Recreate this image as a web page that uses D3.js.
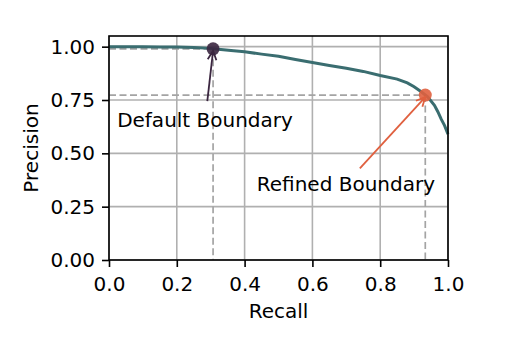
<!DOCTYPE html>
<html>
<head>
<meta charset="utf-8">
<script src="https://cdn.jsdelivr.net/npm/d3@7"></script>
<style>
  body { margin: 0; background: #fff; }
  svg text { font-family: 'DejaVu Sans', sans-serif; }
</style>
</head>
<body>
<svg id="chart" width="519" height="345"></svg>
<script>
// precision-recall curve
const recall = [0, 0.05, 0.1, 0.15, 0.2, 0.25, 0.3, 0.33, 0.36, 0.4, 0.45, 0.5, 0.55, 0.6, 0.65, 0.7, 0.75, 0.8, 0.85, 0.88, 0.9, 0.92, 0.94, 0.96, 0.97, 0.98, 0.99, 1.0]
const precision = [1.0, 1.0, 1.0, 0.999, 0.998, 0.996, 0.992, 0.987, 0.982, 0.976, 0.965, 0.955, 0.94, 0.926, 0.912, 0.899, 0.884, 0.865, 0.848, 0.83, 0.812, 0.79, 0.765, 0.725, 0.695, 0.66, 0.63, 0.59]

const boundaries = [
  { name: 'Default Boundary', recall: 0.307, precision: 0.99, color: '#3b2640', textAt: [0.024, 0.625], tail: [0.29, 0.745] },
  { name: 'Refined Boundary', recall: 0.933, precision: 0.773, color: '#e0603f', textAt: [0.436, 0.323], tail: [0.74, 0.43] }
]

const xTicks = [0, 0.2, 0.4, 0.6, 0.8, 1.0]
const yTicks = [0, 0.25, 0.5, 0.75, 1.0]

const margin = { left: 109, right: 71, top: 36, bottom: 85 }
const width = 519 - margin.left - margin.right
const height = 345 - margin.top - margin.bottom
const fs = 20

const svg = d3.select('#chart')
const g = svg.append('g').attr('transform', `translate(${margin.left},${margin.top})`)

const x = d3.scaleLinear().domain([0, 1]).range([0, width])
const y = d3.scaleLinear().domain([0, 1.05]).range([height, 0])

// grid
g.append('g')
  .selectAll('line')
  .data(xTicks)
  .join('line')
  .attr('x1', d => x(d)).attr('x2', d => x(d))
  .attr('y1', 0).attr('y2', height)
  .attr('stroke', '#b0b0b0').attr('stroke-width', 1.6)
g.append('g')
  .selectAll('line')
  .data(yTicks)
  .join('line')
  .attr('x1', 0).attr('x2', width)
  .attr('y1', d => y(d)).attr('y2', d => y(d))
  .attr('stroke', '#b0b0b0').attr('stroke-width', 1.6)

// dashed guide lines
boundaries.forEach(b => {
  g.append('line')
    .attr('x1', 0).attr('x2', x(b.recall))
    .attr('y1', y(b.precision)).attr('y2', y(b.precision))
    .attr('stroke', '#a4a4a4').attr('stroke-width', 1.7)
    .attr('stroke-dasharray', '7,3.5')
  g.append('line')
    .attr('x1', x(b.recall)).attr('x2', x(b.recall))
    .attr('y1', y(b.precision)).attr('y2', height)
    .attr('stroke', '#a4a4a4').attr('stroke-width', 1.7)
    .attr('stroke-dasharray', '7,3.5')
})

// curve
const pts = recall.map((r, i) => [r, precision[i]])
g.append('path')
  .datum(pts)
  .attr('fill', 'none')
  .attr('stroke', '#3a6d70')
  .attr('stroke-width', 3)
  .attr('d', d3.line().x(d => x(d[0])).y(d => y(d[1])))

// markers
g.selectAll('circle.pt')
  .data(boundaries)
  .join('circle')
  .attr('cx', d => x(d.recall))
  .attr('cy', d => y(d.precision))
  .attr('r', 6.5)
  .attr('fill', d => d.color)
  .attr('opacity', 0.9)

// annotations
boundaries.forEach(b => {
  const x0 = x(b.tail[0]), y0 = y(b.tail[1])
  const x1 = x(b.recall), y1 = y(b.precision) + 2
  const ang = Math.atan2(y1 - y0, x1 - x0)
  const len = 10
  g.append('line')
    .attr('x1', x0).attr('y1', y0).attr('x2', x1).attr('y2', y1)
    .attr('stroke', b.color).attr('stroke-width', 1.8)
  g.append('path')
    .attr('d', `M${x1 - len * Math.cos(ang - 0.45)},${y1 - len * Math.sin(ang - 0.45)} L${x1},${y1} L${x1 - len * Math.cos(ang + 0.45)},${y1 - len * Math.sin(ang + 0.45)}`)
    .attr('fill', 'none').attr('stroke', b.color).attr('stroke-width', 1.8)
  g.append('text')
    .attr('x', x(b.textAt[0])).attr('y', y(b.textAt[1]))
    .attr('font-size', fs)
    .attr('fill', '#000')
    .text(b.name)
})

// axes
const xAxis = g.append('g')
  .attr('transform', `translate(0,${height})`)
  .call(d3.axisBottom(x).tickValues(xTicks).tickFormat(d3.format('.1f')).tickSize(7).tickPadding(10))
const yAxis = g.append('g')
  .call(d3.axisLeft(y).tickValues(yTicks).tickFormat(d3.format('.2f')).tickSize(7).tickPadding(7))
;[xAxis, yAxis].forEach(a => {
  a.select('.domain').remove()
  a.selectAll('line').attr('stroke', '#000').attr('stroke-width', 1.6)
  a.selectAll('text').attr('font-size', fs).attr('fill', '#000')
})

g.append('rect')
  .attr('width', width).attr('height', height)
  .attr('fill', 'none').attr('stroke', '#000').attr('stroke-width', 1.6)

svg.append('text')
  .attr('x', margin.left + width / 2).attr('y', 318)
  .attr('text-anchor', 'middle').attr('font-size', fs)
  .text('Recall')
svg.append('text')
  .attr('transform', `translate(38,${margin.top + height / 2}) rotate(-90)`)
  .attr('text-anchor', 'middle').attr('font-size', fs)
  .text('Precision')
</script>
</body>
</html>
